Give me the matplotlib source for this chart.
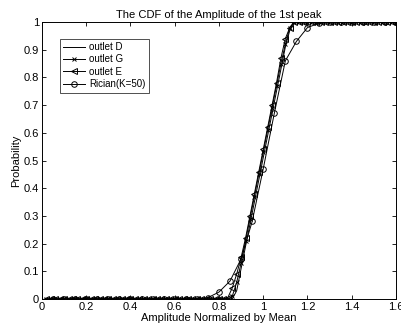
import numpy as np
import matplotlib
matplotlib.use('Agg')
import matplotlib.pyplot as plt
from matplotlib.ticker import FuncFormatter

plt.rcParams['font.family'] = ['Liberation Sans', 'DejaVu Sans']

# measured CDFs, amplitude grid 0.02 .. 1.60
amp = np.round(np.arange(1, 81) * 0.02, 2)
cdf_d = [0, 0, 0, 0, 0, 0, 0, 0, 0, 0,
         0, 0, 0, 0, 0, 0, 0, 0, 0, 0,
         0, 0, 0, 0, 0, 0, 0, 0, 0, 0,
         0, 0, 0, 0, 0, 0, 0, 0, 0, 0,
         0, 0, 0, 0.03, 0.11, 0.19, 0.27, 0.35, 0.43, 0.51,
         0.59, 0.67, 0.75, 0.83, 0.91, 0.97, 0.995, 1, 1, 1,
         1, 1, 1, 1, 1, 1, 1, 1, 1, 1,
         1, 1, 1, 1, 1, 1, 1, 1, 1, 1]
cdf_g = [0, 0, 0, 0, 0, 0, 0, 0, 0, 0,
         0, 0, 0, 0, 0, 0, 0, 0, 0, 0,
         0, 0, 0, 0, 0, 0, 0, 0, 0, 0,
         0, 0, 0, 0, 0, 0, 0, 0, 0, 0,
         0, 0, 0.01, 0.06, 0.13, 0.21, 0.29, 0.37, 0.45, 0.53,
         0.61, 0.69, 0.77, 0.85, 0.92, 0.98, 1, 1, 1, 1,
         1, 1, 1, 1, 1, 1, 1, 1, 1, 1,
         1, 1, 1, 1, 1, 1, 1, 1, 1, 1]
cdf_e = [0, 0, 0, 0, 0, 0, 0, 0, 0, 0,
         0, 0, 0, 0, 0, 0, 0, 0, 0, 0,
         0, 0, 0, 0, 0, 0, 0, 0, 0, 0,
         0, 0, 0, 0, 0, 0, 0, 0, 0, 0,
         0, 0.005, 0.04, 0.09, 0.15, 0.22, 0.30, 0.38, 0.46, 0.54,
         0.62, 0.70, 0.78, 0.87, 0.94, 0.98, 1, 1, 1, 1,
         1, 1, 1, 1, 1, 1, 1, 1, 1, 1,
         1, 1, 1, 1, 1, 1, 1, 1, 1, 1]

# Rician K=50 reference, grid 0.05 .. 1.60
amp_r = np.round(np.arange(1, 33) * 0.05, 2)
cdf_r = [0, 0, 0, 0, 0, 0, 0, 0, 0, 0,
         0, 0, 0, 0, 0.005, 0.025, 0.065, 0.145, 0.28, 0.47,
         0.67, 0.86, 0.93, 0.98, 0.995, 1, 1, 1, 1, 1,
         1, 1]

fig = plt.figure(figsize=(4.02, 3.31), dpi=100)
ax = fig.add_axes([0.1045, 0.0967, 0.8805, 0.8368])

ax.plot(amp, cdf_d, '-', color='k', lw=0.7, label='outlet D')
ax.plot(amp, cdf_g, '-x', color='k', lw=0.7, ms=3.5, mew=0.7, label='outlet G')
ax.plot(amp, cdf_e, '-<', color='k', lw=0.7, ms=4, mew=0.7, mfc='none', label='outlet E')
ax.plot(amp_r, cdf_r, '-o', color='k', lw=0.7, ms=4, mew=0.7, mfc='none', label='Rician(K=50)')

ax.set_xlim(0, 1.6)
ax.set_ylim(0, 1)
ax.set_xticks(np.arange(0, 1.61, 0.2))
ax.set_yticks(np.arange(0, 1.01, 0.1))
fmt = FuncFormatter(lambda v, p: ('%g' % round(v, 1)))
ax.xaxis.set_major_formatter(fmt)
ax.yaxis.set_major_formatter(fmt)
ax.tick_params(direction='in', top=True, right=True, labelsize=8, length=3, width=0.6, pad=2)
for s in ax.spines.values():
    s.set_linewidth(0.7)

ax.set_title('The CDF of the Amplitude of the 1st peak', fontsize=8, pad=3)
ax.set_xlabel('Amplitude Normalized by Mean', fontsize=8, labelpad=1)
ax.set_ylabel('Probability', fontsize=8, labelpad=2)

leg = ax.legend(loc='upper left', bbox_to_anchor=(0.05, 0.94), fontsize=7, frameon=True,
                fancybox=False, edgecolor='k', handlelength=2.3, borderpad=0.35,
                labelspacing=0.25, handletextpad=0.4, borderaxespad=0)
leg.get_frame().set_linewidth(0.6)

fig.savefig('out.png', dpi=100)
